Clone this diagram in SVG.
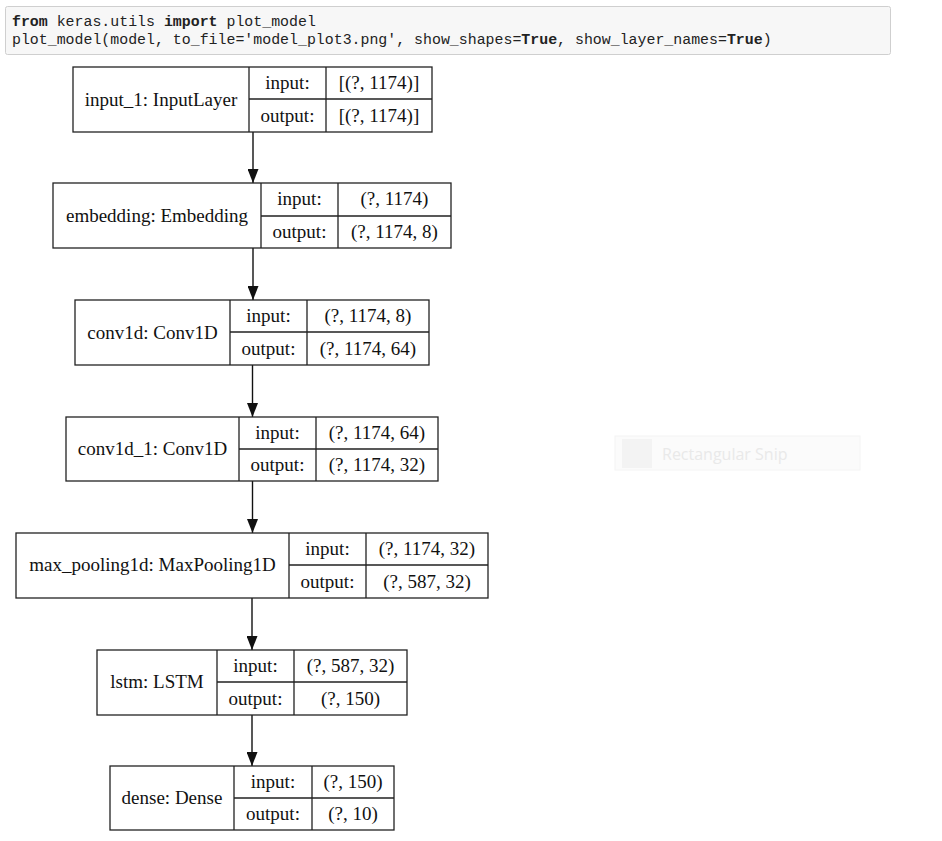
<svg xmlns="http://www.w3.org/2000/svg" width="942" height="841" viewBox="0 0 942 841">
<defs>
<style>
.code{font-family:"Liberation Mono","Courier New",monospace;font-size:14.9px;fill:#222;}
.kw{font-weight:bold;}
.box{fill:#fff;stroke:#222;stroke-width:1.3;}
.ln{stroke:#222;stroke-width:1.3;fill:none;}
.t{font-family:"Liberation Serif","Times New Roman",serif;font-size:19px;fill:#111;text-anchor:middle;}
.edge{stroke:#111;stroke-width:1.4;fill:none;marker-end:url(#arr);}
</style>
<marker id="arr" markerWidth="14" markerHeight="11" refX="14" refY="5.5" orient="auto" markerUnits="userSpaceOnUse" viewBox="0 0 14 11">
<path d="M0,0 L14,5.5 L0,11 Z" fill="#111"/>
</marker>
</defs>
<rect width="942" height="841" fill="#fff"/>
<g id="code">
<rect x="5.5" y="6.5" width="885" height="48" rx="2" fill="#f7f7f7" stroke="#cfcfcf"/>
<text class="code" x="12" y="26"><tspan class="kw">from</tspan> keras.utils <tspan class="kw">import</tspan> plot_model</text>
<text class="code" x="12" y="44">plot_model(model, to_file='model_plot3.png', show_shapes=<tspan class="kw">True</tspan>, show_layer_names=<tspan class="kw">True</tspan>)</text>
</g>
<g id="snip">
<rect x="615" y="436" width="245" height="34" fill="#fbfbfb" stroke="#f4f4f4"/>
<rect x="622" y="439" width="30" height="29" fill="#f3f3f3"/>
<text x="662" y="460" font-family="'Open Sans','Liberation Sans',sans-serif" font-size="16" fill="#e9e9e9">Rectangular Snip</text>
</g>
<g id="connectors">
<line class="edge" x1="253" y1="132" x2="253" y2="183"/>
<line class="edge" x1="253" y1="248" x2="253" y2="300"/>
<line class="edge" x1="252.5" y1="365" x2="252.5" y2="417"/>
<line class="edge" x1="252.5" y1="481" x2="252.5" y2="533"/>
<line class="edge" x1="252" y1="598" x2="252" y2="650"/>
<line class="edge" x1="252" y1="715" x2="252" y2="766"/>
</g>
<g id="input_1">
<rect class="box" x="73" y="67" width="359" height="65"/>
<path class="ln" d="M249,67V132M326,67V132M249,99H432"/>
<text class="t" x="161" y="106">input_1: InputLayer</text>
<text class="t" x="287.5" y="89">input:</text>
<text class="t" x="379" y="89">[(?, 1174)]</text>
<text class="t" x="287.5" y="122">output:</text>
<text class="t" x="379" y="122">[(?, 1174)]</text>
</g>
<g id="embedding">
<rect class="box" x="53" y="183" width="398" height="65"/>
<path class="ln" d="M261,183V248M338,183V248M261,216H451"/>
<text class="t" x="157" y="222">embedding: Embedding</text>
<text class="t" x="299.5" y="205">input:</text>
<text class="t" x="394.5" y="205">(?, 1174)</text>
<text class="t" x="299.5" y="238">output:</text>
<text class="t" x="394.5" y="238">(?, 1174, 8)</text>
</g>
<g id="conv1d">
<rect class="box" x="75" y="300" width="354" height="65"/>
<path class="ln" d="M230,300V365M307,300V365M230,332H429"/>
<text class="t" x="152.5" y="339">conv1d: Conv1D</text>
<text class="t" x="268.5" y="322">input:</text>
<text class="t" x="368" y="322">(?, 1174, 8)</text>
<text class="t" x="268.5" y="355">output:</text>
<text class="t" x="368" y="355">(?, 1174, 64)</text>
</g>
<g id="conv1d_1">
<rect class="box" x="66" y="417" width="372" height="64"/>
<path class="ln" d="M239,417V481M316,417V481M239,449H438"/>
<text class="t" x="152.5" y="455">conv1d_1: Conv1D</text>
<text class="t" x="277.5" y="439">input:</text>
<text class="t" x="377" y="439">(?, 1174, 64)</text>
<text class="t" x="277.5" y="471">output:</text>
<text class="t" x="377" y="471">(?, 1174, 32)</text>
</g>
<g id="max_pooling1d">
<rect class="box" x="16" y="533" width="472" height="65"/>
<path class="ln" d="M289,533V598M366,533V598M289,565H488"/>
<text class="t" x="152.5" y="571">max_pooling1d: MaxPooling1D</text>
<text class="t" x="327.5" y="555">input:</text>
<text class="t" x="427" y="555">(?, 1174, 32)</text>
<text class="t" x="327.5" y="588">output:</text>
<text class="t" x="427" y="588">(?, 587, 32)</text>
</g>
<g id="lstm">
<rect class="box" x="97" y="650" width="310" height="65"/>
<path class="ln" d="M217,650V715M294,650V715M217,682H407"/>
<text class="t" x="157" y="688">lstm: LSTM</text>
<text class="t" x="255.5" y="672">input:</text>
<text class="t" x="350.5" y="672">(?, 587, 32)</text>
<text class="t" x="255.5" y="705">output:</text>
<text class="t" x="350.5" y="705">(?, 150)</text>
</g>
<g id="dense">
<rect class="box" x="110" y="766" width="284" height="64"/>
<path class="ln" d="M234,766V830M312,766V830M234,798H394"/>
<text class="t" x="172" y="804">dense: Dense</text>
<text class="t" x="273" y="788">input:</text>
<text class="t" x="353" y="788">(?, 150)</text>
<text class="t" x="273" y="820">output:</text>
<text class="t" x="353" y="820">(?, 10)</text>
</g>
</svg>
